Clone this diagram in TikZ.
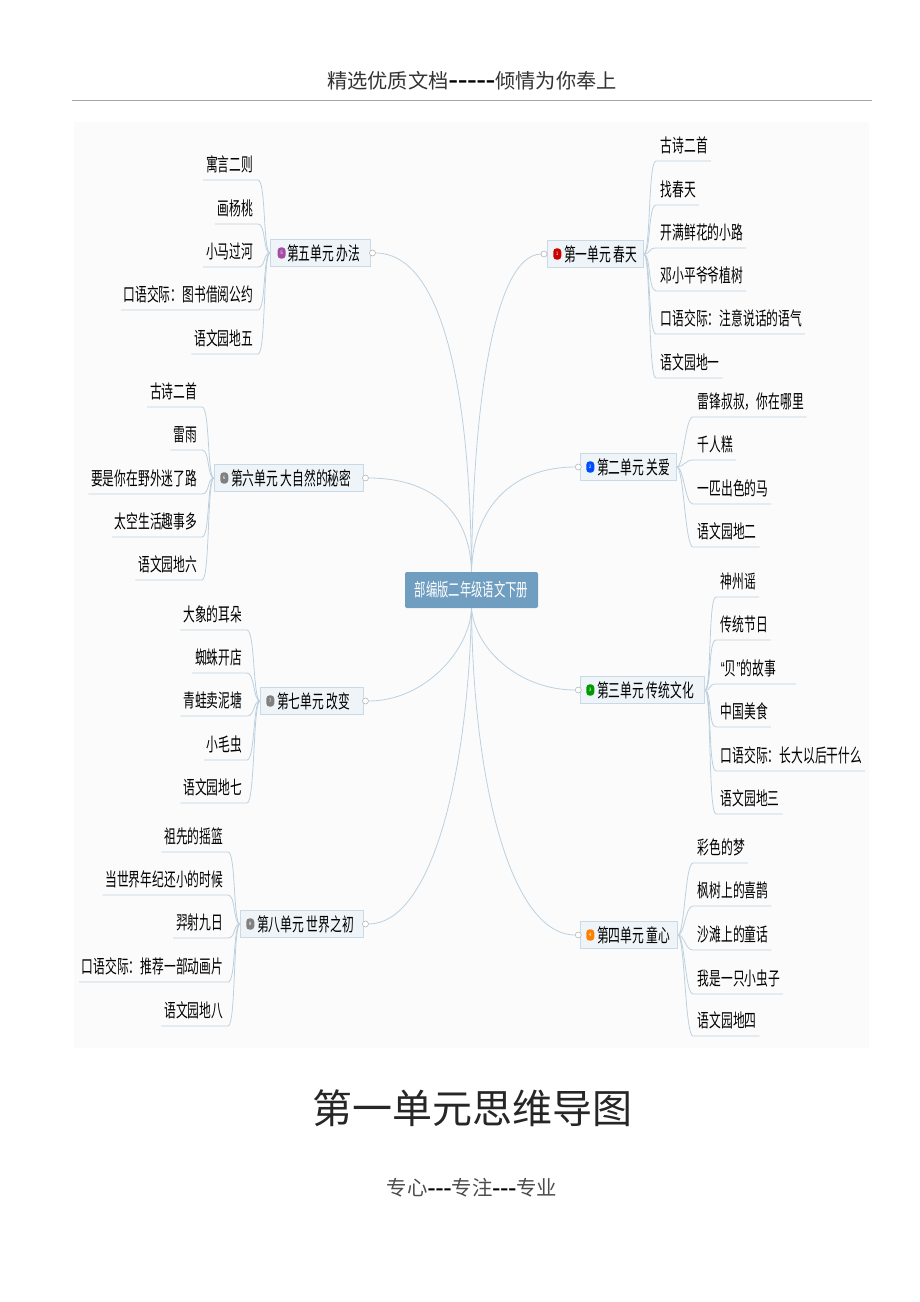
\documentclass[tikz,border=0pt]{standalone}
\usepackage{fontspec}
\newfontfamily\cjk{Noto Sans CJK SC}
\newfontfamily\mapfont[FakeStretch=.63]{Noto Sans CJK SC}
\newfontfamily\dashfont{Liberation Serif}
\newfontfamily\quotefont[FakeStretch=.63]{Liberation Sans}
\usetikzlibrary{positioning,calc,backgrounds}
\definecolor{panel}{HTML}{FBFBFB}
\definecolor{wire}{HTML}{BCD0DF}
\definecolor{rootfill}{HTML}{709EC0}
\definecolor{unitfill}{HTML}{EEF4F8}
\definecolor{unitedge}{HTML}{C9DAE6}
\newcommand{\unittext}[2]{\makebox[#1][l]{\hspace*{7.5pt}#2}}
\tikzstyle{root} = [rectangle, fill=rootfill, rounded corners=1.5pt, text=white,
    minimum width=99.75pt, minimum height=27pt, inner sep=0pt, font=\mapfont\fontsize{13.5}{14}\selectfont]
\tikzstyle{unit} = [rectangle, draw=unitedge, fill=unitfill, anchor=west, inner xsep=5pt, inner ysep=0pt,
    minimum height=20pt, line width=.6pt, font=\mapfont\fontsize{14}{15}\selectfont]
\tikzstyle{ico} = [rectangle, rounded corners=2.5pt, minimum width=6pt, minimum height=8.5pt, inner sep=0pt,
    text=white, font=\cjk\fontsize{3.5}{4}\selectfont]
\tikzstyle{ctrl} = [circle, draw=gray!60, fill=white, line width=.4pt, minimum size=4.5pt, inner sep=0pt, outer sep=0pt]
\tikzstyle{leaf} = [rectangle, inner xsep=2pt, inner ysep=0pt, text height=11pt, text depth=6pt,
    font=\mapfont\fontsize{14}{15}\selectfont]
\tikzstyle{lfr} = [leaf, anchor=south west]
\tikzstyle{lfl} = [leaf, anchor=south east]
\tikzstyle{mainw} = [draw=wire, line width=.6pt]
\tikzstyle{outr} = [draw=wire, line width=.6pt, to path={(\tikztostart.east) .. controls +(7,0) and ($(\tikztotarget.south west)+(-10,0)$) .. ($(\tikztotarget.south west)+(-2,0)$) -- (\tikztotarget.south east)}]
\tikzstyle{outl} = [draw=wire, line width=.6pt, to path={(\tikztostart.west) .. controls +(-7,0) and ($(\tikztotarget.south east)+(10,0)$) .. ($(\tikztotarget.south east)+(2,0)$) -- (\tikztotarget.south west)}]
\begin{document}
\begin{tikzpicture}[x=.75pt,y=-.75pt]
  \useasboundingbox (0,0) rectangle (920,1302);
  \draw[gray!70,line width=.6pt] (72,100) -- (872,100);

  \node[text=black!80] (head) at (472,81) {\cjk\fontsize{15.2}{16}\selectfont 精选优质文档{\dashfont\bfseries\color{black}\fontsize{21}{16}\selectfont -----}倾情为你奉上};
  \node[text=black!85] (title) at (472,1108) {\cjk\fontsize{30}{32}\selectfont 第一单元思维导图};
  \node[text=black!70] (foot) at (472,1188) {\cjk\fontsize{15.3}{16}\selectfont 专心{\dashfont\bfseries\color{black}\fontsize{18}{16}\selectfont ---}专注{\dashfont\bfseries\color{black}\fontsize{18}{16}\selectfont ---}专业};

  \node[root] (map) at (471.5,590) {部编版二年级语文下册};

  % right side
  \node[unit] (u1) at (547,254) {\unittext{62pt}{第一单元 春天}};
  \node[unit] (u2) at (580,467) {\unittext{62pt}{第二单元 关爱}};
  \node[unit] (u3) at (580,690) {\unittext{83pt}{第三单元 传统文化}};
  \node[unit] (u4) at (580,935) {\unittext{62.75pt}{第四单元 童心}};
  % left side
  \node[unit] (u5) at (270,253) {\unittext{65pt}{第五单元 办法}};
  \node[unit] (u6) at (214,478) {\unittext{101.75pt}{第六单元 大自然的秘密}};
  \node[unit] (u7) at (260,701) {\unittext{67.25pt}{第七单元 改变}};
  \node[unit] (u8) at (240,924) {\unittext{82.25pt}{第八单元 世界之初}};

  \node[ico,fill=red!80!black,right=4.5pt of u1.west]     (i1) {1};
  \node[ico,fill=blue!70!cyan,right=4.5pt of u2.west]     (i2) {2};
  \node[ico,fill=green!60!black,right=4.5pt of u3.west]   (i3) {3};
  \node[ico,fill=orange,right=4.5pt of u4.west]           (i4) {4};
  \node[ico,fill=violet!70,right=5.5pt of u5.west]        (i5) {5};
  \node[ico,fill=gray,right=4.5pt of u6.west]             (i6) {6};
  \node[ico,fill=gray,right=4.5pt of u7.west]             (i7) {7};
  \node[ico,fill=gray,right=4.5pt of u8.west]             (i8) {8};

  \node[ctrl,left=0pt of u1.west]  (c1) {};
  \node[ctrl,left=-1pt of u2.west] (c2) {};
  \node[ctrl,left=-1pt of u3.west] (c3) {};
  \node[ctrl,left=-1pt of u4.west] (c4) {};
  \node[ctrl,right=-1pt of u5.east] (c5) {};
  \node[ctrl,right=-1pt of u6.east] (c6) {};
  \node[ctrl,right=-1pt of u7.east] (c7) {};
  \node[ctrl,right=-1pt of u8.east] (c8) {};

  \node[lfr] (a1) at (658,161) {古诗二首};
  \node[lfr] (a2) at (658,205) {找春天};
  \node[lfr] (a3) at (658,248) {开满鲜花的小路};
  \node[lfr] (a4) at (658,291) {邓小平爷爷植树};
  \node[lfr] (a5) at (658,334) {口语交际：注意说话的语气};
  \node[lfr] (a6) at (658,378) {语文园地一};

  \node[lfr] (b1) at (695,417) {雷锋叔叔，你在哪里};
  \node[lfr] (b2) at (695,460) {千人糕};
  \node[lfr] (b3) at (695,504) {一匹出色的马};
  \node[lfr] (b4) at (695,547) {语文园地二};

  \node[lfr] (d1) at (718,597) {神州谣};
  \node[lfr] (d2) at (718,640) {传统节日};
  \node[lfr] (d3) at (718,684) {{\quotefont “}贝{\quotefont ”}的故事\hspace*{13pt}};
  \node[lfr] (d4) at (718,727) {中国美食};
  \node[lfr] (d5) at (718,771) {口语交际：长大以后干什么};
  \node[lfr] (d6) at (718,814) {语文园地三};

  \node[lfr] (e1) at (695,863) {彩色的梦};
  \node[lfr] (e2) at (695,906) {枫树上的喜鹊};
  \node[lfr] (e3) at (695,950) {沙滩上的童话};
  \node[lfr] (e4) at (695,994) {我是一只小虫子};
  \node[lfr] (e5) at (695,1036) {语文园地四};

  \node[lfl] (f1) at (256,180) {寓言二则};
  \node[lfl] (f2) at (256,224) {画杨桃};
  \node[lfl] (f3) at (256,267) {小马过河};
  \node[lfl] (f4) at (256,310) {口语交际：图书借阅公约};
  \node[lfl] (f5) at (256,354) {语文园地五};

  \node[lfl] (g1) at (200,407) {古诗二首};
  \node[lfl] (g2) at (200,450) {雷雨};
  \node[lfl] (g3) at (200,494) {要是你在野外迷了路};
  \node[lfl] (g4) at (200,537) {太空生活趣事多};
  \node[lfl] (g5) at (200,580) {语文园地六};

  \node[lfl] (h1) at (245,630) {大象的耳朵};
  \node[lfl] (h2) at (245,673) {蜘蛛开店};
  \node[lfl] (h3) at (245,716) {青蛙卖泥塘};
  \node[lfl] (h4) at (245,760) {小毛虫};
  \node[lfl] (h5) at (245,803) {语文园地七};

  \node[lfl] (k1) at (226,852) {祖先的摇篮};
  \node[lfl] (k2) at (226,895) {当世界年纪还小的时候};
  \node[lfl] (k3) at (226,938) {羿射九日};
  \node[lfl] (k4) at (226,982) {口语交际：推荐一部动画片};
  \node[lfl] (k5) at (226,1026) {语文园地八};

  \begin{scope}[on background layer]
  \fill[panel] (74,122) rectangle (869,1048);
  \path[mainw] (map.north) .. controls (473,400) and (495,255) .. (c1);
  \path[mainw] (map.north) .. controls (473,510) and (510,467) .. (c2);
  \path[mainw] (map.south) .. controls (475,650) and (520,690) .. (c3);
  \path[mainw] (map.south) .. controls (473,780) and (510,935) .. (c4);
  \path[mainw] (map.north) .. controls (470,380) and (440,253) .. (c5);
  \path[mainw] (map.north) .. controls (470,510) and (430,478) .. (c6);
  \path[mainw] (map.south) .. controls (470,650) and (425,701) .. (c7);
  \path[mainw] (map.south) .. controls (468,780) and (430,924) .. (c8);

  \path (u1) edge[outr] (a1) (u1) edge[outr] (a2) (u1) edge[outr] (a3)
        (u1) edge[outr] (a4) (u1) edge[outr] (a5) (u1) edge[outr] (a6);
  \path (u2) edge[outr] (b1) (u2) edge[outr] (b2) (u2) edge[outr] (b3) (u2) edge[outr] (b4);
  \path (u3) edge[outr] (d1) (u3) edge[outr] (d2) (u3) edge[outr] (d3)
        (u3) edge[outr] (d4) (u3) edge[outr] (d5) (u3) edge[outr] (d6);
  \path (u4) edge[outr] (e1) (u4) edge[outr] (e2) (u4) edge[outr] (e3)
        (u4) edge[outr] (e4) (u4) edge[outr] (e5);
  \path (u5) edge[outl] (f1) (u5) edge[outl] (f2) (u5) edge[outl] (f3)
        (u5) edge[outl] (f4) (u5) edge[outl] (f5);
  \path (u6) edge[outl] (g1) (u6) edge[outl] (g2) (u6) edge[outl] (g3)
        (u6) edge[outl] (g4) (u6) edge[outl] (g5);
  \path (u7) edge[outl] (h1) (u7) edge[outl] (h2) (u7) edge[outl] (h3)
        (u7) edge[outl] (h4) (u7) edge[outl] (h5);
  \path (u8) edge[outl] (k1) (u8) edge[outl] (k2) (u8) edge[outl] (k3)
        (u8) edge[outl] (k4) (u8) edge[outl] (k5);
  \end{scope}
\end{tikzpicture}
\end{document}
